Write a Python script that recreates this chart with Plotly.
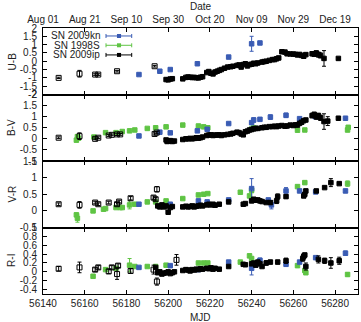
import plotly.graph_objects as go
from plotly.subplots import make_subplots

# ---------------- data ----------------
date_ticks = [56140, 56160, 56180, 56200, 56220, 56240, 56260, 56280]
date_labels = ["Aug 01", "Aug 21", "Sep 10", "Sep 30", "Oct 20", "Nov 09", "Nov 29", "Dec 19"]

# U-B
ub_kn_mjd = [56186, 56196, 56201, 56214, 56229, 56240, 56244]
ub_kn_val = [-0.8, -0.6, -0.5, -0.15, 0.25, 1.05, 1.1]
ub_kn_err = [0, 0, 0, 0, 0, 0.45, 0]

ub_ipo_mjd = [56147.5, 56157.5, 56165, 56166.5, 56175.5, 56193.5]
ub_ipo_val = [-1.0, -0.75, -0.8, -0.8, -0.6, -0.3]
ub_ipo_err = [0.04, 0.2, 0.05, 0.05, 0.05, 0.05]

ub_ip_mjd = [56199, 56200, 56201, 56202, 56207, 56208.5, 56209.5, 56210.5, 56211.5, 56212.5,
             56213.5, 56214.5, 56215.5, 56216.5, 56218.5, 56219.5, 56220.5, 56221.5, 56222.5, 56223.5,
             56224.5, 56225.5, 56227, 56228.5, 56230, 56231, 56233, 56234, 56235, 56236,
             56237, 56238, 56239, 56240, 56241, 56242, 56243, 56245, 56246, 56247,
             56248.5, 56250, 56251, 56252, 56253, 56254.5, 56256, 56257, 56258.5, 56260,
             56261, 56262, 56263, 56264, 56265, 56266, 56269, 56270, 56271, 56272,
             56273, 56274.7, 56281.6]
ub_ip_val = [-1.1, -1.12, -1.07, -1.05, -1.06, -0.97, -0.95, -0.96, -0.98, -0.97,
             -0.99, -1.0, -0.96, -0.93, -0.68, -0.62, -0.72, -0.76, -0.65, -0.6,
             -0.55, -0.5, -0.42, -0.35, -0.33, -0.3, -0.25, -0.22, -0.35, -0.2,
             -0.15, -0.28, -0.2, -0.18, -0.12, -0.15, -0.1, -0.05, -0.02, 0.0,
             0.05, 0.1, 0.1, 0.15, 0.2, 0.57, 0.55, 0.45, 0.44, 0.43,
             0.42, 0.38, 0.41, 0.35, 0.3, 0.4, 0.45, 0.42, 0.5, 0.4,
             0.35, 0.17, 0.17]
ub_ip_err = [0] * 57 + [0.1, 0.12, 0.15, 0.15, 0.47, 0.05]

# B-V
bv_kn_mjd = [56186, 56196, 56201, 56214, 56218.7, 56229, 56240, 56241, 56244, 56249, 56256.5, 56263, 56270.5, 56285]
bv_kn_val = [0.13, 0.3, 0.27, 0.36, 0.43, 0.69, 0.73, 0.85, 0.88, 0.98, 1.06, 0.91, 1.0, 0.93]
bv_kn_err = [0, 0, 0, 0, 0, 0, 0, 0.1, 0, 0.1, 0.1, 0, 0, 0]

bv_s_mjd = [56156, 56156.5, 56157, 56164.4, 56170, 56175, 56178, 56181.5, 56184, 56190, 56194,
            56199, 56207, 56214.5, 56217, 56219, 56240, 56241, 56262, 56265.5, 56286, 56286.3]
bv_s_val = [-0.06, 0.1, 0.03, 0.08, 0.28, 0.28, 0.33, 0.36, 0.4, 0.47, 0.5,
            0.54, 0.62, 0.58, 0.54, 0.5, 0.44, 0.5, 0.39, 0.4, 0.4, 0.52]
bv_s_err = [0.05, 0.08, 0.05, 0, 0, 0, 0, 0, 0, 0, 0, 0, 0, 0, 0, 0, 0, 0, 0, 0, 0.08, 0]

bv_ipo_mjd = [56147.5, 56157.5, 56165, 56166.5, 56171.5, 56173, 56175.5, 56177, 56193.5, 56194.5]
bv_ipo_val = [0.05, 0.12, 0.0, 0.05, 0.15, 0.18, 0.2, 0.2, 0.22, 0.28]
bv_ipo_err = [0.04, 0.15, 0.04, 0.04, 0.04, 0.04, 0.05, 0.04, 0.05, 0.05]

bv_ip_mjd = [56199, 56199.5, 56200, 56201, 56202, 56203, 56207, 56208.5, 56209.5, 56210.5,
             56211.5, 56212.5, 56213.5, 56214.5, 56215.5, 56216.5, 56218.5, 56219.5, 56220.5, 56221.5,
             56222.5, 56223.5, 56224.5, 56225.5, 56227, 56228.5, 56230, 56231, 56233, 56234,
             56235, 56236, 56237, 56238, 56239, 56240, 56241, 56242, 56243, 56245,
             56246, 56247, 56248.5, 56250, 56251, 56252, 56253, 56254.5, 56256, 56257,
             56258.5, 56260, 56261, 56262, 56263, 56264, 56265, 56266, 56269, 56270,
             56271, 56272, 56273, 56274.7, 56276.5, 56281.6]
bv_ip_val = [-0.05, -0.12, -0.1, -0.08, -0.12, -0.1, -0.03, 0.0, 0.0, 0.02,
             0.0, 0.02, 0.05, 0.03, 0.05, 0.08, 0.15, 0.17, 0.18, 0.15,
             0.17, 0.17, 0.18, 0.15, 0.18, 0.2, 0.22, 0.25, 0.3, 0.28,
             0.22, 0.18, 0.32, 0.35, 0.4, 0.42, 0.45, 0.47, 0.47, 0.5,
             0.52, 0.52, 0.55, 0.55, 0.57, 0.55, 0.58, 0.6, 0.57, 0.58,
             0.62, 0.6, 0.63, 0.62, 0.7, 0.75, 0.82, 0.85, 1.05, 1.1,
             1.0, 1.05, 0.95, 0.78, 0.8, 0.93]
bv_ip_err = [0] * 58 + [0.1, 0.1, 0.12, 0.1, 0.12, 0.35, 0.2, 0.05]

# V-R
vr_kn_mjd = [56186, 56201, 56214.5, 56218.7, 56229, 56240, 56248, 56249.5, 56256.5, 56263, 56270.7, 56285]
vr_kn_val = [0.2, 0.2, 0.3, 0.27, 0.33, 0.67, 0.33, 0.18, 0.6, 0.6, 0.57, 0.6]
vr_kn_err = [0, 0, 0.05, 0, 0, 0.3, 0, 0.12, 0.1, 0, 0, 0.05]

vr_s_mjd = [56156, 56156.5, 56164, 56169, 56170, 56175, 56177, 56178, 56181.5, 56184, 56190, 56194,
            56199, 56207, 56214.5, 56217, 56219, 56234.6, 56239, 56240, 56262, 56265.5, 56286]
vr_s_val = [-0.12, -0.22, 0.0, 0.05, 0.07, 0.1, 0.1, 0.1, 0.18, 0.2, 0.27, 0.27,
            0.3, 0.37, 0.48, 0.5, 0.52, 0.56, 0.45, 0.62, 0.73, 0.85, 0.82]
vr_s_err = [0.05, 0.12, 0, 0, 0, 0, 0, 0, 0.12, 0, 0, 0,
            0, 0, 0, 0, 0, 0, 0.05, 0.08, 0, 0.05, 0.08]

vr_ipo_mjd = [56147.5, 56157.5, 56165, 56166.5, 56171.5, 56175.5, 56176.5, 56182, 56193, 56194, 56194.6]
vr_ipo_val = [0.2, 0.18, 0.25, 0.2, 0.25, 0.2, 0.28, 0.38, 0.4, 0.35, 0.65]
vr_ipo_err = [0.04, 0.1, 0.04, 0.04, 0.04, 0.05, 0.04, 0.05, 0.05, 0.05, 0.08]

vr_ip_mjd = [56195, 56196, 56197, 56198, 56199, 56200, 56201, 56202, 56207, 56208.5,
             56209.5, 56210.5, 56211.5, 56212.5, 56213.5, 56214.5, 56215.5, 56216.5, 56218.5, 56219.5,
             56220.5, 56221.5, 56222.5, 56224.5, 56229, 56236, 56237, 56240, 56241, 56242,
             56243, 56244, 56245, 56247, 56249, 56252, 56252.5, 56256.5, 56265, 56265.5,
             56266, 56271, 56275, 56278, 56282]
vr_ip_val = [0.15, 0.12, 0.18, 0.12, 0.15, -0.04, 0.1, 0.13, 0.12, 0.14,
             0.12, 0.13, 0.15, 0.12, 0.14, 0.15, 0.17, 0.15, 0.18, 0.2,
             0.18, 0.2, 0.17, 0.2, 0.27, 0.2, 0.22, 0.3, 0.35, 0.32,
             0.33, 0.3, 0.28, 0.25, 0.25, 0.3, 0.43, 0.43, 0.45, 0.5,
             0.6, 0.6, 0.7, 0.85, 0.82]
vr_ip_err = [0] * 34 + [0.05, 0.08, 0.08, 0.05, 0.05, 0.05, 0.05, 0.03, 0.03, 0.12, 0.03]

# R-I
ri_kn_mjd = [56186, 56201, 56214.5, 56229, 56240, 56244, 56256.5, 56263, 56270.7, 56285]
ri_kn_val = [0.1, 0.14, 0.05, 0.22, 0.08, 0.26, 0.17, 0.22, 0.32, 0.42]
ri_kn_err = [0, 0, 0, 0.03, 0.15, 0.05, 0.05, 0, 0, 0.05]

ri_s_mjd = [56164, 56170, 56175, 56181.5, 56184, 56190, 56194, 56199, 56214.5, 56217, 56219,
            56234.6, 56239, 56240, 56262, 56265.5, 56266, 56286]
ri_s_val = [-0.1, 0.05, 0.08, 0.15, 0.12, 0.12, 0.12, 0.15, 0.2, 0.2, 0.2,
            0.22, 0.36, 0.3, 0.14, 0.03, -0.02, -0.06]
ri_s_err = [0.04, 0, 0, 0.15, 0, 0, 0, 0, 0, 0, 0, 0, 0.04, 0, 0, 0.04, 0, 0.04]

ri_ipo_mjd = [56147.5, 56157.5, 56165, 56166.5, 56171.5, 56173, 56175.5, 56176, 56182, 56193, 56194.6, 56204]
ri_ipo_val = [0.07, 0.1, 0.05, 0.1, 0.01, 0.1, -0.05, 0.14, 0.02, 0.05, -0.22, 0.27]
ri_ipo_err = [0.05, 0.12, 0.04, 0.04, 0.05, 0.04, 0.12, 0.04, 0.05, 0.1, 0.08, 0.12]

ri_ip_mjd = [56194, 56195, 56196, 56197, 56198, 56199, 56200, 56201, 56202, 56203,
             56207, 56208.5, 56209.5, 56210.5, 56211.5, 56212.5, 56213.5, 56214.5, 56215.5, 56216.5,
             56218.5, 56219.5, 56220.5, 56221.5, 56222.5, 56224.5, 56229, 56236, 56237, 56240,
             56241, 56242, 56243, 56244, 56245, 56247, 56249, 56252.5, 56256.5, 56264.5, 56265,
             56265.5, 56266, 56272, 56275, 56278, 56282]
ri_ip_val = [0.1, -0.02, 0.0, -0.05, -0.03, -0.02, 0.0, -0.04, -0.02, 0.0,
             0.03, 0.05, 0.04, 0.02, 0.05, 0.04, 0.06, 0.05, 0.07, 0.06,
             0.08, 0.07, 0.09, 0.06, 0.08, 0.06, 0.12, 0.17, 0.16, 0.18,
             0.2, 0.15, 0.22, 0.18, 0.12, 0.2, 0.22, 0.22, 0.25, 0.3, 0.35,
             0.38, 0.12, 0.28, 0.25, 0.2, 0.25]
ri_ip_err = [0] * 35 + [0.05, 0.04, 0.04, 0.06, 0.06, 0.06, 0.04, 0.08, 0.08, 0.06, 0.12, 0.08]

# ---------------- styling ----------------
BLUE = "#3a5cb4"
GREEN = "#5fc444"
BLACK = "#000000"
FONT = "Liberation Sans, Arial, sans-serif"
TXT = "#222"

fig = make_subplots(rows=4, cols=1, shared_xaxes=True, vertical_spacing=0)


def add(row, x, y, e, color, symbol, size):
    fig.add_trace(go.Scatter(
        x=x, y=y, mode="markers",
        marker=dict(symbol=symbol, size=size, color=color, line=dict(width=1, color=color)),
        error_y=dict(type="data", array=e, thickness=1, width=2, color=color, visible=True),
        showlegend=False, hoverinfo="skip"), row=row, col=1)


panels = [
    (1, ub_kn_mjd, ub_kn_val, ub_kn_err, None, None, None, ub_ipo_mjd, ub_ipo_val, ub_ipo_err, ub_ip_mjd, ub_ip_val, ub_ip_err),
    (2, bv_kn_mjd, bv_kn_val, bv_kn_err, bv_s_mjd, bv_s_val, bv_s_err, bv_ipo_mjd, bv_ipo_val, bv_ipo_err, bv_ip_mjd, bv_ip_val, bv_ip_err),
    (3, vr_kn_mjd, vr_kn_val, vr_kn_err, vr_s_mjd, vr_s_val, vr_s_err, vr_ipo_mjd, vr_ipo_val, vr_ipo_err, vr_ip_mjd, vr_ip_val, vr_ip_err),
    (4, ri_kn_mjd, ri_kn_val, ri_kn_err, ri_s_mjd, ri_s_val, ri_s_err, ri_ipo_mjd, ri_ipo_val, ri_ipo_err, ri_ip_mjd, ri_ip_val, ri_ip_err),
]
for (r, kx, ky, ke, sx, sy, se, ox, oy, oe, px, py, pe) in panels:
    if sx is not None:
        add(r, sx, sy, se, GREEN, "square", 4.5)
    add(r, kx, ky, ke, BLUE, "square", 4.5)
    add(r, ox, oy, oe, BLACK, "square-open", 5)
    add(r, px, py, pe, BLACK, "square", 4.5)

axis_common = dict(showline=True, linecolor="black", linewidth=1, mirror="allticks",
                   ticks="inside", ticklen=4, tickwidth=1, tickcolor="black",
                   showgrid=False, zeroline=False, automargin=False,
                   tickfont=dict(family=FONT, size=10, color=TXT))

for i in range(1, 5):
    fig.update_xaxes(range=[56140, 56291], tickvals=date_ticks, **axis_common, row=i, col=1)

fig.update_xaxes(side="top", showticklabels=True, ticktext=date_labels, row=1, col=1)
fig.update_xaxes(showticklabels=True, ticktext=[str(v) for v in date_ticks], row=4, col=1)
fig.update_xaxes(showticklabels=False, row=2, col=1)
fig.update_xaxes(showticklabels=False, row=3, col=1)

yspecs = [
    (1, [-2, 2], [-2, -1.5, -1, -0.5, 0, 0.5, 1, 1.5, 2], "U-B"),
    (2, [-1, 2], [-1, -0.5, 0, 0.5, 1, 1.5, 2], "B-V"),
    (3, [-0.5, 1.5], [-0.5, 0, 0.5, 1, 1.5], "V-R"),
    (4, [-0.5, 1.0], [-0.4, -0.2, 0, 0.2, 0.4, 0.6, 0.8, 1.0], "R-I"),
]
for r, rng, tv, ttl in yspecs:
    fig.update_yaxes(range=rng, tickvals=tv, ticktext=[("%g" % v) for v in tv],
                     ticklabelstandoff=3, **axis_common, row=r, col=1)

ann = []
for r, rng, tv, ttl in yspecs:
    yref = "y domain" if r == 1 else "y%d domain" % r
    ann.append(dict(text=ttl, x=-0.098, xref="paper", y=0.5, yref=yref, showarrow=False,
                    textangle=-90, font=dict(family=FONT, size=10, color=TXT),
                    xanchor="center", yanchor="middle"))

# x-axis titles
ann.append(dict(text="Date", x=0.5, xref="paper", y=1.079, yref="paper", showarrow=False,
                xanchor="center", yanchor="middle", font=dict(family=FONT, size=10, color=TXT)))
ann.append(dict(text="MJD", x=0.5, xref="paper", y=-0.09, yref="paper", showarrow=False,
                xanchor="center", yanchor="middle", font=dict(family=FONT, size=10, color=TXT)))

# gnuplot-style legend inside top panel
leg_names = ["SN 2009kn", "SN 1998S", "SN 2009ip"]
leg_colors = [BLUE, GREEN, BLACK]
leg_y = [0.88, 0.74, 0.595]
shapes = []
for name, col, yy in zip(leg_names, leg_colors, leg_y):
    ann.append(dict(text=name, x=0.186, xref="paper", y=yy, yref="y domain", showarrow=False,
                    xanchor="right", yanchor="middle", font=dict(family=FONT, size=10, color=TXT)))
    shapes.append(dict(type="line", xref="paper", yref="y domain", x0=0.2, x1=0.2816, y0=yy, y1=yy,
                       line=dict(color=col, width=1)))
    for xe in (0.2, 0.2816):
        shapes.append(dict(type="line", xref="paper", yref="y domain", x0=xe, x1=xe, y0=yy - 0.03, y1=yy + 0.03,
                           line=dict(color=col, width=1)))
    shapes.append(dict(type="rect", xref="paper", yref="y domain", x0=0.2413 - 0.0065, x1=0.2413 + 0.0065,
                       y0=yy - 0.03, y1=yy + 0.03, line=dict(width=0), fillcolor=col))

fig.update_layout(width=361, height=322, margin=dict(l=43, r=3, t=28, b=28, autoexpand=False),
                  paper_bgcolor="white", plot_bgcolor="white", showlegend=False,
                  annotations=ann, shapes=shapes,
                  font=dict(family=FONT, size=10, color=TXT))

fig.write_html("out.html")
